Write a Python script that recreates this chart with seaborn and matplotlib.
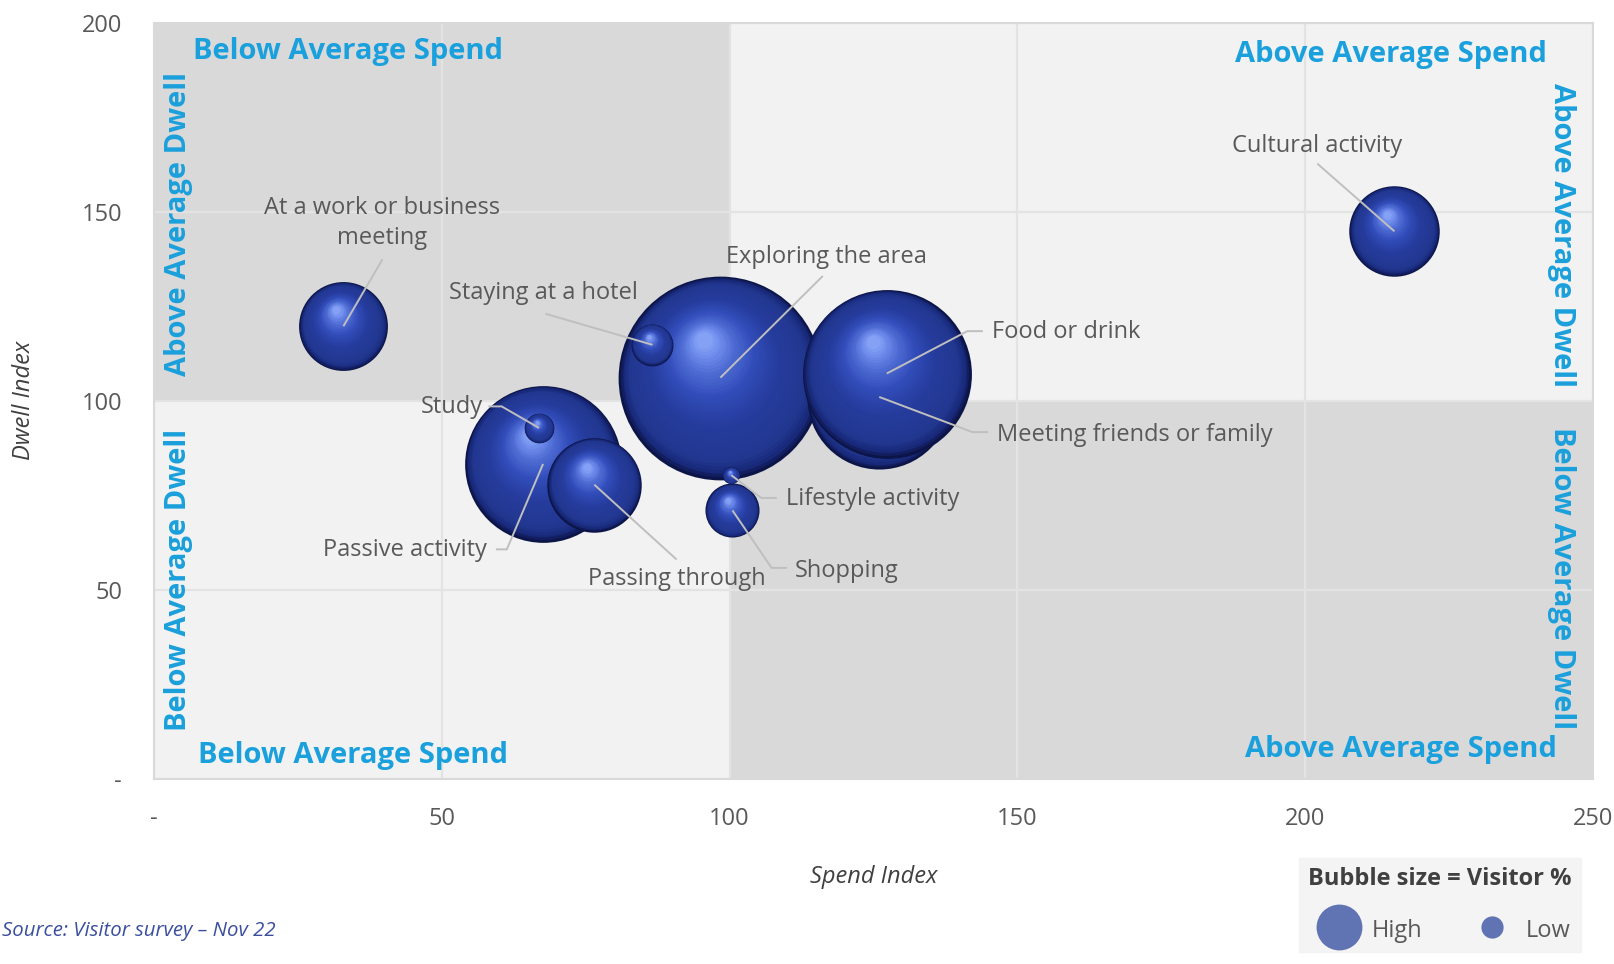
import numpy as np
import pandas as pd
import matplotlib
matplotlib.use("Agg")
import matplotlib.pyplot as plt
import matplotlib.transforms as mtransforms
from matplotlib.lines import Line2D
from matplotlib.colors import LinearSegmentedColormap
import seaborn as sns

# ---------------- data ----------------
activities = ["Exploring the area", "Meeting friends or family", "Food or drink",
              "Passive activity", "Passing through", "Cultural activity",
              "At a work or business\nmeeting", "Shopping", "Staying at a hotel",
              "Study", "Lifestyle activity"]
spend_index = [98.4, 126.0, 127.3, 67.6, 76.5, 215.5, 32.9, 100.5, 86.6, 66.9, 100.3]
dwell_index = [106.1, 101.0, 107.2, 83.3, 77.8, 144.8, 119.7, 71.0, 114.8, 92.8, 80.3]
visitor_pct = [28.4, 14.2, 19.5, 16.8, 6.1, 5.6, 5.4, 2.0, 1.2, 0.6, 0.2]

x_ticks = [0, 50, 100, 150, 200, 250]
x_tick_labels = ["-", "50", "100", "150", "200", "250"]
y_ticks = [0, 50, 100, 150, 200]
y_tick_labels = ["-", "50", "100", "150", "200"]
spend_avg = 100
dwell_avg = 100

# label placement (text x, text y, ha) and leader path points
label_pos = {
    "Exploring the area": (116.8, 138.0, "center"),
    "Meeting friends or family": (146.5, 91.0, "left"),
    "Food or drink": (145.6, 118.2, "left"),
    "Passive activity": (57.9, 60.5, "right"),
    "Passing through": (90.8, 52.8, "center"),
    "Cultural activity": (202.1, 167.4, "center"),
    "At a work or business\nmeeting": (39.7, 147.0, "center"),
    "Shopping": (111.4, 55.0, "left"),
    "Staying at a hotel": (67.6, 128.5, "center"),
    "Study": (57.2, 98.3, "right"),
    "Lifestyle activity": (109.8, 74.0, "left"),
}
leader_path = {
    "Exploring the area": [(116.2, 133.0)],
    "Meeting friends or family": [(142.2, 91.7), (144.9, 91.7)],
    "Food or drink": [(141.3, 118.4), (144.0, 118.4)],
    "Passive activity": [(61.3, 60.7), (59.4, 60.7)],
    "Passing through": [(90.8, 58.0)],
    "Cultural activity": [(202.1, 162.7)],
    "At a work or business\nmeeting": [(39.7, 137.4)],
    "Shopping": [(107.3, 55.8), (110.0, 55.8)],
    "Staying at a hotel": [(68.0, 123.0)],
    "Study": [(60.4, 98.5), (58.1, 98.5)],
    "Lifestyle activity": [(105.5, 74.3), (108.2, 74.3)],
}

df = pd.DataFrame({"activity": activities, "spend": spend_index,
                   "dwell": dwell_index, "visitors": visitor_pct})

# ---------------- style ----------------
sns.set_theme(style="white")
plt.rcParams["font.family"] = ["Open Sans", "DejaVu Sans"]

BLUE_TXT = "#1aa0dc"
GREY_TXT = "#595959"
DARK_BG = "#d9d9d9"
LIGHT_BG = "#f2f2f2"

fig = plt.figure(figsize=(16.14, 9.64), dpi=100)
ax = fig.add_axes([0.0954, 0.192, 0.8916, 0.7846])
ax.set_xlim(0, 250)
ax.set_ylim(0, 200)

# quadrant backgrounds
ax.axvspan(0, spend_avg, ymin=0, ymax=dwell_avg / 200, color=LIGHT_BG, zorder=0.1, lw=0)
ax.axvspan(0, spend_avg, ymin=dwell_avg / 200, ymax=1, color=DARK_BG, zorder=0.1, lw=0)
ax.axvspan(spend_avg, 250, ymin=dwell_avg / 200, ymax=1, color=LIGHT_BG, zorder=0.1, lw=0)
ax.axvspan(spend_avg, 250, ymin=0, ymax=dwell_avg / 200, color=DARK_BG, zorder=0.1, lw=0)

ax.set_axisbelow(True)
ax.grid(True, color="#e3e3e3", lw=1.6)
for sp in ax.spines.values():
    sp.set_color("#d9d9d9")
    sp.set_linewidth(1.5)

ax.set_xticks(x_ticks)
ax.set_xticklabels(x_tick_labels)
ax.set_yticks(y_ticks)
ax.set_yticklabels(y_tick_labels)
ax.tick_params(axis="both", length=0, labelsize=17, labelcolor=GREY_TXT)
ax.tick_params(axis="x", pad=20)
ax.tick_params(axis="y", pad=23)

ax.set_xlabel("Spend Index", fontsize=17, style="italic", color="#404040")
ax.set_ylabel("Dwell Index", fontsize=17, style="italic", color="#404040")
ax.xaxis.set_label_coords(0.5, -0.13)
ax.xaxis.label.set_va("center")
ax.yaxis.set_label_coords(-0.09, 0.5)
ax.yaxis.label.set_va("center")

# ---------------- bubbles ----------------
K = 758.0  # points^2 per visitor %
vmax = max(visitor_pct)
sphere = LinearSegmentedColormap.from_list(
    "sphere",
    [(0.0, "#0c1548"), (0.05, "#18297a"), (0.13, "#22378f"), (0.40, "#263c9e"),
     (0.62, "#324dba"), (0.80, "#4f6cd4"), (0.92, "#6d8beb"), (1.0, "#85a1f5")])
hx, hy = -0.16, 0.37
N = 40
for i, row in df.iterrows():
    base_z = 3 + i * 0.1
    sns.scatterplot(data=df.iloc[[i]], x="spend", y="dwell", size="visitors",
                    sizes=(0, K * vmax), size_norm=(0, vmax), color="#0c1548",
                    linewidth=0, legend=False, ax=ax, zorder=base_z)
    s = K * row["visitors"]
    R = np.sqrt(s) / 2.0  # radius in points
    for k, t in enumerate(np.linspace(0, 1, N)[1:]):
        f = 1 - t * 0.92
        off = mtransforms.ScaledTranslation(t * hx * R / 72.0, t * hy * R / 72.0,
                                            fig.dpi_scale_trans)
        ax.scatter([row["spend"]], [row["dwell"]], s=s * f * f, color=sphere(t),
                   linewidth=0, transform=ax.transData + off,
                   zorder=base_z + 0.001 * (k + 1))

# ---------------- labels & leaders ----------------
for _, row in df.iterrows():
    name = row["activity"]
    tx, ty, ha = label_pos[name]
    pts = [(row["spend"], row["dwell"])] + leader_path[name]
    ax.plot([p[0] for p in pts], [p[1] for p in pts], color="#bfbfbf", lw=1.4,
            zorder=10, solid_capstyle="butt")
    ax.text(tx, ty, name, ha=ha, va="center", fontsize=17, color=GREY_TXT,
            zorder=11, linespacing=1.3, multialignment="center")

# ---------------- quadrant annotations ----------------
qkw = dict(fontsize=21, fontweight="bold", color=BLUE_TXT, zorder=12)
ax.text(6.8, 192.4, "Below Average Spend", ha="left", va="center", **qkw)
ax.text(242.0, 191.6, "Above Average Spend", ha="right", va="center", **qkw)
ax.text(7.7, 6.3, "Below Average Spend", ha="left", va="center", **qkw)
ax.text(243.7, 7.9, "Above Average Spend", ha="right", va="center", **qkw)
ax.text(4.2, 146.7, "Above Average Dwell", ha="center", va="center", rotation=90, **qkw)
ax.text(4.2, 52.5, "Below Average Dwell", ha="center", va="center", rotation=90, **qkw)
ax.text(244.6, 143.9, "Above Average Dwell", ha="center", va="center", rotation=-90, **qkw)
ax.text(244.6, 53.0, "Below Average Dwell", ha="center", va="center", rotation=-90, **qkw)

# ---------------- legend ----------------
handles = [Line2D([], [], marker="o", ls="", markersize=33, color="#6073b3", mew=0),
           Line2D([], [], marker="o", ls="", markersize=16, color="#6073b3", mew=0)]
leg = fig.legend(handles, ["High", "Low"], ncol=2, loc="lower right",
                 bbox_to_anchor=(1593 / 1614, 0.0), title="Bubble size = Visitor %",
                 frameon=True, fancybox=False, facecolor=LIGHT_BG, edgecolor=LIGHT_BG,
                 fontsize=17, title_fontproperties={"weight": "bold", "size": 17},
                 alignment="left", columnspacing=1.65, handletextpad=0.1,
                 borderpad=0.4, handlelength=2.6, handleheight=1.0, labelspacing=1.15)
for t in leg.get_texts():
    t.set_color(GREY_TXT)
leg.get_title().set_color("#404040")

fig.text(0.001, 0.0347, "Source: Visitor survey \u2013 Nov 22", fontsize=14.7,
         style="italic", color="#3b4f9e", ha="left", va="center")

fig.savefig("out.png", dpi=100, facecolor="white")
